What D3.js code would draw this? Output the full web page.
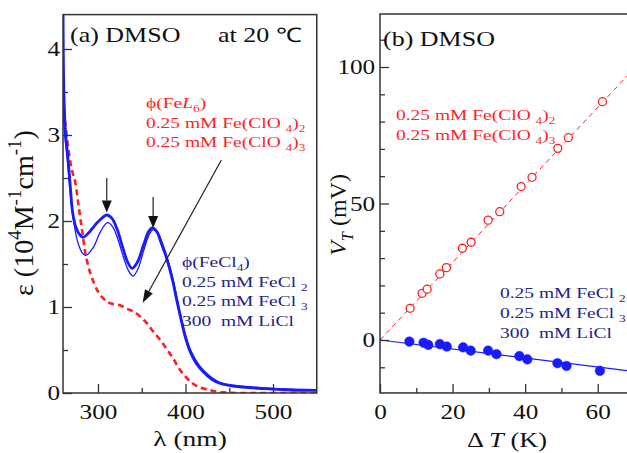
<!DOCTYPE html>
<html><head><meta charset="utf-8">
<script src="https://cdn.jsdelivr.net/npm/d3@7"></script>
<style>
html,body{margin:0;padding:0;background:#fff;}
svg{display:block;}
svg text{font-family:"Liberation Serif","Times New Roman",Times,serif !important;white-space:pre;}
</style></head>
<body>
<svg id="chart" width="627" height="453" xmlns="http://www.w3.org/2000/svg"></svg>
<script>
// ---------- DATA ----------
// Panel (a): absorption spectra, wavelength (nm) vs epsilon (10^4 M^-1 cm^-1)
const lambdaFeCl = [260,261,263,265,268,271,275,280,283,290,300,310,316,322,328,334,339,345,352,358,362,367,372,378,385,390,395,400,405,412,420,430,440,455,490,520,550];
const epsFeCl    = [4.6,3.5,3.0,2.8,2.45,2.1,1.92,1.83,1.81,1.87,1.99,2.07,2.03,1.9,1.7,1.52,1.45,1.52,1.72,1.88,1.92,1.88,1.75,1.58,1.32,1.08,0.85,0.64,0.49,0.35,0.25,0.16,0.11,0.08,0.05,0.035,0.03];
const lambdaFeClThin = [260,262,265,268,272,277,282,286,295,303,311,317,323,330,335,340,346,352,358,363,368,373,378,385,390,395,400,405,412,420,430,440,455,490,520,550];
const epsFeClThin    = [3.32,3.0,2.7,2.35,2.0,1.75,1.63,1.6,1.7,1.88,1.98,1.93,1.78,1.55,1.42,1.36,1.45,1.65,1.83,1.9,1.87,1.76,1.61,1.36,1.12,0.89,0.68,0.52,0.38,0.27,0.18,0.12,0.09,0.06,0.045,0.04];
const lambdaFeL6 = [260,263,266,270,274,278,282,286,292,300,308,315,325,333,340,347,355,362,370,378,386,393,400,407,415,425,440,460,500,550];
const epsFeL6    = [3.4,3.1,2.85,2.6,2.45,2.16,1.88,1.6,1.37,1.18,1.08,1.04,1.02,0.98,0.95,0.9,0.82,0.73,0.63,0.52,0.4,0.28,0.19,0.12,0.07,0.04,0.01,0.0,0.0,0.0];
const lambdaTicksMajor = [300,400,500];
const lambdaTicksMinor = [350,450];
const epsTicksMajor = [0,1,2,3,4];
const epsTicksMinor = [0.5,1.5,2.5,3.5];

// Panel (b): thermoelectric voltage vs temperature difference
const deltaTPerchlorate = [8.3,11.6,13.0,16.5,18.3,22.7,25.1,29.8,33.0,38.9,41.9,49.0,51.9,61.3];
const vtPerchlorate     = [11.6,17.1,18.6,24.2,26.5,33.6,35.8,43.9,47.0,56.2,59.6,70.2,74.1,87.3];
const deltaTChloride = [8.1,12.0,13.3,16.5,18.4,22.9,25.0,29.8,32.1,38.4,40.6,48.9,51.4,60.6];
const vtChloride     = [-0.6,-1.0,-1.8,-1.5,-2.4,-2.7,-3.9,-3.9,-5.2,-5.9,-7.1,-8.5,-9.5,-11.3];
const fitSlopePerchlorate = 1.42;   // mV/K
const fitSlopeChloride = -0.165;    // mV/K
const dTTicksMajor = [0,20,40,60];
const dTTicksMinor = [10,30,50];
const vtTicksMajor = [0,50,100];
const vtTicksMinor = [-10,10,20,30,40,60,70,80,90,110];

// ---------- SETUP ----------
const svg = d3.select('#chart');
const RED = '#ff1f1f', BLUE = '#1a1aff', NAVY = '#23238c', FRAME = '#333';
const SX = 1.3;
const fmt = d3.format('d');

function rich(g, x, y, parts, o) {
  const size = o.size, sx = o.sx == null ? SX : o.sx;
  let tr = `translate(${x},${y}) scale(${sx},1)`;
  if (o.rotate) tr += ` rotate(${o.rotate})`;
  const t = g.append('text').attr('transform', tr).attr('font-size', size)
    .attr('fill', o.color || '#111').attr('text-anchor', o.anchor || 'start')
    .attr('xml:space', 'preserve');
  let shift = 0;
  parts.forEach(p => {
    const [s, kind] = typeof p === 'string' ? [p, ''] : p;
    const isSub = kind.indexOf('sub') >= 0, isSup = kind.indexOf('sup') >= 0;
    const target = isSub ? size * 0.28 : isSup ? -size * 0.42 : 0;
    const ts = t.append('tspan').text(s).attr('dy', target - shift);
    if (isSub || isSup) ts.attr('font-size', size * 0.68);
    if (kind.indexOf('it') >= 0) ts.attr('font-style', 'italic');
    shift = target;
  });
  return t;
}

function styleAxis(g, textSize) {
  g.attr('font-family', null);
  g.select('.domain').remove();
  g.selectAll('line').attr('stroke', FRAME).attr('stroke-width', 1.3);
  g.selectAll('text').attr('font-size', textSize).attr('fill', '#111');
}

// ---------- PANEL (a) ----------
const xL = d3.scaleLinear().domain([300, 500]).range([98, 273]);
const yL = d3.scaleLinear().domain([0, 4]).range([393, 49]);
const xLdom = [260, 550], yLdom = [0, 4.4];
const gA = svg.append('g');

svg.append('clipPath').attr('id', 'clipA').append('rect')
  .attr('x', xL(xLdom[0])).attr('y', yL(yLdom[1]))
  .attr('width', xL(xLdom[1]) - xL(xLdom[0])).attr('height', yL(yLdom[0]) - yL(yLdom[1]));

const lineA = d3.line().x(d => xL(d[0])).y(d => yL(d[1])).curve(d3.curveCatmullRom.alpha(0.5));
const curves = gA.append('g').attr('clip-path', 'url(#clipA)');
curves.append('path').datum(d3.zip(lambdaFeL6, epsFeL6)).attr('d', lineA)
  .attr('fill', 'none').attr('stroke', RED).attr('stroke-width', 2.6).attr('stroke-dasharray', '6,4');
curves.append('path').datum(d3.zip(lambdaFeClThin, epsFeClThin)).attr('d', lineA)
  .attr('fill', 'none').attr('stroke', BLUE).attr('stroke-width', 1.3);
curves.append('path').datum(d3.zip(lambdaFeCl, epsFeCl)).attr('d', lineA)
  .attr('fill', 'none').attr('stroke', BLUE).attr('stroke-width', 2.8);

// axes (inward ticks)
const axBL = gA.append('g').attr('transform', `translate(0,${yL(0)})`)
  .call(d3.axisBottom(xL).tickValues(lambdaTicksMajor).tickFormat(fmt).tickSize(-9).tickPadding(11));
styleAxis(axBL, 21);
axBL.selectAll('text').attr('transform', `scale(1.2,1)`);
gA.append('g').attr('transform', `translate(0,${yL(0)})`)
  .call(d3.axisBottom(xL).tickValues(lambdaTicksMinor).tickSize(-5).tickFormat(''))
  .call(g => styleAxis(g, 21));
const axLL = gA.append('g').attr('transform', `translate(${xL(260)},0)`)
  .call(d3.axisLeft(yL).tickValues(epsTicksMajor).tickFormat(fmt).tickSize(-9).tickPadding(2.5));
styleAxis(axLL, 21);
axLL.selectAll('text').attr('transform', `scale(1.2,1)`);
gA.append('g').attr('transform', `translate(${xL(260)},0)`)
  .call(d3.axisLeft(yL).tickValues(epsTicksMinor).tickSize(-5).tickFormat(''))
  .call(g => styleAxis(g, 21));

gA.append('rect').attr('x', xL(xLdom[0])).attr('y', yL(yLdom[1]))
  .attr('width', xL(xLdom[1]) - xL(xLdom[0])).attr('height', yL(yLdom[0]) - yL(yLdom[1]))
  .attr('fill', 'none').attr('stroke', FRAME).attr('stroke-width', 1.5);

// arrows
function arrow(g, x1, y1, x2, y2, head, width) {
  const ang = Math.atan2(y2 - y1, x2 - x1);
  const bx = x2 - head * Math.cos(ang), by = y2 - head * Math.sin(ang);
  g.append('line').attr('x1', x1).attr('y1', y1).attr('x2', bx).attr('y2', by)
    .attr('stroke', '#222').attr('stroke-width', 1.2);
  const px = -Math.sin(ang) * width / 2, py = Math.cos(ang) * width / 2;
  g.append('path').attr('d', `M${x2},${y2}L${bx + px},${by + py}L${bx - px},${by - py}Z`).attr('fill', '#111');
}
arrow(gA, xL(310), yL(2.5), xL(310), yL(2.1), 12, 10);
arrow(gA, xL(363), yL(2.28), xL(363), yL(1.92), 12, 10);
arrow(gA, xL(441), yL(2.71), xL(351), yL(1.05), 13, 9);

// texts
rich(gA, 70, 42, ['(a) DMSO'], { size: 20 });
rich(gA, 218, 42, ['at 20 ', '\u2103'], { size: 20 });
rich(gA, 146, 108, ['\u03d5(Fe', ['L', 'it'], ['6', 'sub'], ')'], { size: 15, color: RED });
rich(gA, 146, 128, ['0.25 mM Fe(ClO ', ['4', 'sub'], ')', ['2', 'sub']], { size: 15, color: RED });
rich(gA, 146, 147, ['0.25 mM Fe(ClO ', ['4', 'sub'], ')', ['3', 'sub']], { size: 15, color: RED });
rich(gA, 182, 267, ['\u03d5(FeCl', ['4', 'sub'], ')'], { size: 15, color: NAVY });
rich(gA, 182, 287, ['0.25 mM FeCl ', ['2', 'sub']], { size: 15, color: NAVY });
rich(gA, 182, 306, ['0.25 mM FeCl ', ['3', 'sub']], { size: 15, color: NAVY });
rich(gA, 182, 326, ['300  mM LiCl'], { size: 15, color: NAVY });
rich(gA, 190, 446, ['\u03bb (nm)'], { size: 22, anchor: 'middle', sx: 1.25 });
rich(gA, 33, 213, ['\u03b5 (10', ['4', 'sup'], 'M', ['-1', 'sup'], 'cm', ['-1', 'sup'], ')'], { size: 28, anchor: 'middle', sx: 1, rotate: -90 });

// ---------- PANEL (b) ----------
const xR = d3.scaleLinear().domain([0, 70]).range([380, 634]);
const yR = d3.scaleLinear().domain([0, 100]).range([340, 67]);
const yRdom = [-19.4, 119.4];
const gB = svg.append('g');
svg.append('clipPath').attr('id', 'clipB').append('rect')
  .attr('x', xR(0)).attr('y', yR(yRdom[1])).attr('width', xR(70) - xR(0)).attr('height', yR(yRdom[0]) - yR(yRdom[1]));

const fits = gB.append('g').attr('clip-path', 'url(#clipB)');
fits.append('line').attr('x1', xR(0)).attr('y1', yR(0)).attr('x2', xR(70)).attr('y2', yR(70 * fitSlopePerchlorate))
  .attr('stroke', RED).attr('stroke-width', 1).attr('stroke-dasharray', '5,4');
fits.append('line').attr('x1', xR(0)).attr('y1', yR(0)).attr('x2', xR(70)).attr('y2', yR(70 * fitSlopeChloride))
  .attr('stroke', BLUE).attr('stroke-width', 1.2);

fits.selectAll('circle.p').data(d3.zip(deltaTPerchlorate, vtPerchlorate)).join('circle')
  .attr('class', 'p').attr('cx', d => xR(d[0])).attr('cy', d => yR(d[1])).attr('r', 4)
  .attr('fill', '#fff').attr('stroke', RED).attr('stroke-width', 1.3);
fits.selectAll('circle.c').data(d3.zip(deltaTChloride, vtChloride)).join('circle')
  .attr('class', 'c').attr('cx', d => xR(d[0])).attr('cy', d => yR(d[1])).attr('r', 4.8)
  .attr('fill', BLUE).attr('stroke', BLUE).attr('stroke-width', 0.5);

const axBR = gB.append('g').attr('transform', `translate(0,${yR(yRdom[0])})`)
  .call(d3.axisBottom(xR).tickValues(dTTicksMajor).tickFormat(fmt).tickSize(-9).tickPadding(11));
styleAxis(axBR, 21);
axBR.selectAll('text').attr('transform', 'scale(1.2,1)');
gB.append('g').attr('transform', `translate(0,${yR(yRdom[0])})`)
  .call(d3.axisBottom(xR).tickValues(dTTicksMinor).tickSize(-5).tickFormat(''))
  .call(g => styleAxis(g, 21));
const axRL = gB.append('g').attr('transform', `translate(${xR(0)},0)`)
  .call(d3.axisLeft(yR).tickValues(vtTicksMajor).tickFormat(fmt).tickSize(-9).tickPadding(4));
styleAxis(axRL, 21);
axRL.selectAll('text').attr('transform', 'scale(1.2,1)');
gB.append('g').attr('transform', `translate(${xR(0)},0)`)
  .call(d3.axisLeft(yR).tickValues(vtTicksMinor).tickSize(-5).tickFormat(''))
  .call(g => styleAxis(g, 21));

gB.append('rect').attr('x', xR(0)).attr('y', yR(yRdom[1]))
  .attr('width', xR(70) - xR(0)).attr('height', yR(yRdom[0]) - yR(yRdom[1]))
  .attr('fill', 'none').attr('stroke', FRAME).attr('stroke-width', 1.5);

rich(gB, 383, 46, ['(b) DMSO'], { size: 20 });
rich(gB, 396, 120, ['0.25 mM Fe(ClO ', ['4', 'sub'], ')', ['2', 'sub']], { size: 15, color: RED });
rich(gB, 396, 140, ['0.25 mM Fe(ClO ', ['4', 'sub'], ')', ['3', 'sub']], { size: 15, color: RED });
rich(gB, 500, 298, ['0.25 mM FeCl ', ['2', 'sub']], { size: 15, color: NAVY });
rich(gB, 500, 318, ['0.25 mM FeCl ', ['3', 'sub']], { size: 15, color: NAVY });
rich(gB, 500, 338, ['300  mM LiCl'], { size: 15, color: NAVY });
rich(gB, 507, 447, ['\u0394 ', ['T', 'it'], ' (K)'], { size: 22, anchor: 'middle', sx: 1.2 });
rich(gB, 346, 215, [['V', 'it'], ['T', 'sub it'], ' (mV)'], { size: 24, anchor: 'middle', sx: 1, rotate: -90 });
</script>
</body></html>
